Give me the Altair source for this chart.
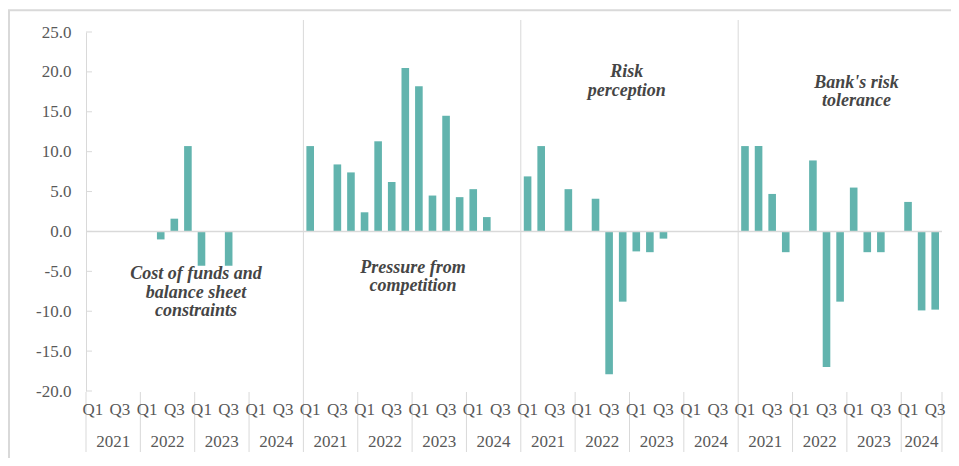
import altair as alt
import pandas as pd

# ---- data ----
years = ["2021", "2022", "2023", "2024"]
quarters = ["Q1", "Q2", "Q3", "Q4"]

cost_of_funds = [None, None, None, None, None, -1.0, 1.6, 10.7,
                 -4.3, None, -4.3, None, None, None, None, None]
competition = [10.7, None, 8.4, 7.4, 2.4, 11.3, 6.2, 20.5,
               18.2, 4.5, 14.5, 4.3, 5.3, 1.8, None, None]
risk_perception = [6.9, 10.7, None, 5.3, None, 4.1, -17.9, -8.8,
                   -2.5, -2.6, -0.9, None, None, None, None, None]
risk_tolerance = [10.7, 10.7, 4.7, -2.6, None, 8.9, -17.0, -8.8,
                  5.5, -2.6, -2.6, None, 3.7, -9.9, -9.8]

series = [cost_of_funds, competition, risk_perception, risk_tolerance]

annotation_lines = [
    ["Cost of funds and", "balance sheet", "constraints"],
    ["Pressure from", "competition"],
    ["Risk", "perception"],
    ["Bank's risk", "tolerance"],
]
annotation_slot = [8.1, 24.06, 39.8, 56.7]
annotation_value = [-6.0, -5.2, 19.3, 18.0]

y_ticks = [-20, -15, -10, -5, 0, 5, 10, 15, 20, 25]

# ---- build tables ----
bars, qlabels, ylabels, ybounds, pstarts = [], [], [], [], []
slot = 0
for p, vals in enumerate(series):
    pstarts.append(slot)
    for yi, yr in enumerate(years):
        idx = [i for i in range(len(vals)) if i // 4 == yi]
        if not idx:
            continue
        start = slot + idx[0]
        ybounds.append(start)
        ylabels.append(dict(x=start + len(idx) / 2, label=yr))
    for i, v in enumerate(vals):
        q = quarters[i % 4]
        if v is not None:
            bars.append(dict(slot=slot + i, value=float(v)))
        if q in ("Q1", "Q3"):
            qlabels.append(dict(x=slot + i + 0.5, label=q))
    slot += len(vals)
total = slot
ybounds.append(total)

bars_df = pd.DataFrame(bars)
q_df = pd.DataFrame(qlabels)
yl_df = pd.DataFrame(ylabels)
yb_df = pd.DataFrame(dict(x=ybounds))
ps_df = pd.DataFrame(dict(x=pstarts[1:]))
ann_df = pd.DataFrame(dict(text=["\n".join(l) for l in annotation_lines],
                           x=annotation_slot, y=annotation_value))
tick_df = pd.DataFrame(dict(v=y_ticks))

W, H = 856, 359
GRID = "#d9d9d9"
TXT = "#595959"
FONT = "Liberation Serif"

xs = alt.Scale(domain=[0, total], nice=False, zero=False)
ys = alt.Scale(domain=[-20, 25], nice=False, zero=False)


def yaxis():
    return alt.Axis(values=y_ticks, title=None, ticks=False,
                    labelExpr="replace(format(datum.value, '.1f'), '\u2212', '-')",
                    grid=False, domainColor=GRID, labelColor=TXT,
                    labelFont=FONT, labelFontSize=17, labelPadding=15)


bar_layer = alt.Chart(bars_df).transform_calculate(
    x0="datum.slot + 0.22", x1="datum.slot + 0.78", base="0"
).mark_bar(color="#62B4AE").encode(
    x=alt.X("x0:Q", scale=xs, axis=None),
    x2="x1:Q",
    y=alt.Y("value:Q", scale=ys, axis=yaxis()),
    y2="base:Q",
)

zero_line = alt.Chart(pd.DataFrame(dict(a=[0], b=[total], v=[0]))).mark_rule(
    color=GRID, strokeWidth=1.5
).encode(x=alt.X("a:Q", scale=xs, axis=None), x2="b:Q",
         y=alt.Y("v:Q", scale=ys, axis=yaxis()))

inner_ticks = alt.Chart(tick_df).mark_rule(color=GRID).encode(
    y=alt.Y("v:Q", scale=ys, axis=yaxis()), x=alt.value(0), x2=alt.value(6)
)

panel_seps = alt.Chart(ps_df).mark_rule(color=GRID).encode(
    x=alt.X("x:Q", scale=xs, axis=None), y=alt.value(-12), y2=alt.value(H + 1)
)

year_seps = alt.Chart(yb_df).mark_rule(color=GRID).encode(
    x=alt.X("x:Q", scale=xs, axis=None), y=alt.value(H + 1), y2=alt.value(420)
)

q_text = alt.Chart(q_df).mark_text(
    font=FONT, fontSize=17, color=TXT, baseline="middle"
).encode(x=alt.X("x:Q", scale=xs, axis=None), y=alt.value(378), text="label:N")

year_text = alt.Chart(yl_df).mark_text(
    font=FONT, fontSize=17, color=TXT, baseline="middle"
).encode(x=alt.X("x:Q", scale=xs, axis=None), y=alt.value(409.5), text="label:N")

ann_text = alt.Chart(ann_df).mark_text(
    font=FONT, fontSize=18, fontStyle="italic", fontWeight="bold",
    color="#454545", lineBreak="\n", lineHeight=18.3, baseline="alphabetic"
).encode(x=alt.X("x:Q", scale=xs, axis=None),
         y=alt.Y("y:Q", scale=ys, axis=yaxis()), text="text:N")

frame_left = alt.Chart(pd.DataFrame(dict(a=[0]))).mark_rule(
    color=GRID, strokeWidth=2
).encode(x=alt.value(-77), y=alt.value(-22), y2=alt.value(440))

frame_top = alt.Chart(pd.DataFrame(dict(a=[0]))).mark_rule(
    color=GRID, strokeWidth=2
).encode(x=alt.value(-78), x2=alt.value(870), y=alt.value(-21.7))

chart = alt.layer(
    bar_layer, zero_line, panel_seps, year_seps, inner_ticks,
    q_text, year_text, ann_text, frame_left, frame_top
).properties(
    width=W, height=H,
    autosize=alt.AutoSizeParams(type="none"),
    padding={"left": 78, "top": 24, "right": 9, "bottom": 67},
).configure_view(strokeWidth=0)

chart.save("out.html", embed_options={"renderer": "svg", "actions": False})
